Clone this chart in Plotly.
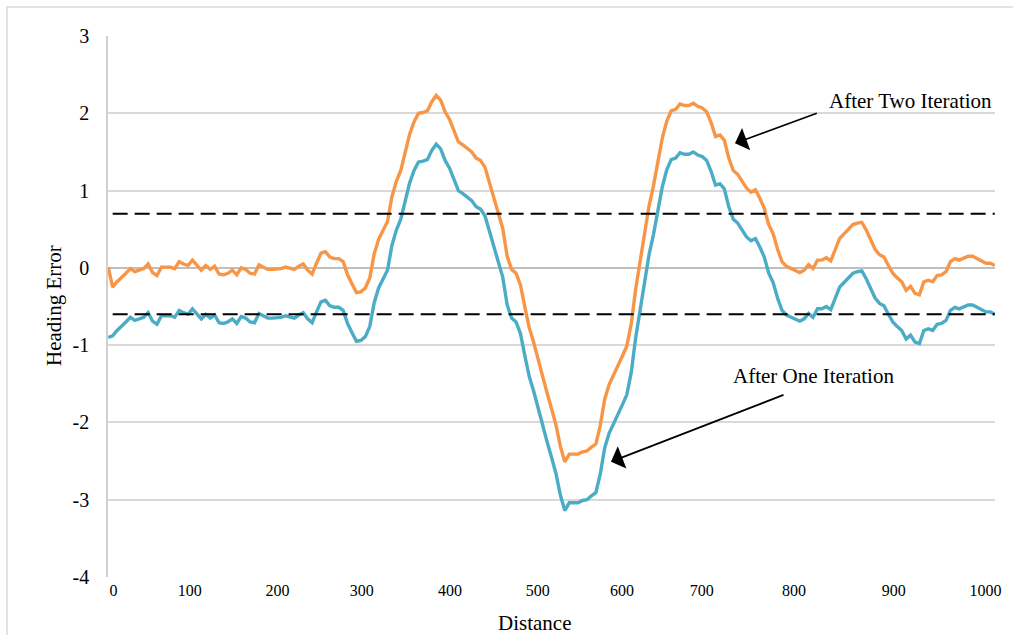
import plotly.graph_objects as go

# ---------------- data ----------------
sample_index = list(range(201))

after_two_iteration = [
    0.01, -0.25, -0.18, -0.13, -0.07, -0.01, -0.05, -0.03, -0.01, 0.05,
    -0.06, -0.10, 0.01, 0.01, 0.01, -0.01, 0.08, 0.05, 0.03, 0.10,
    0.03, -0.03, 0.03, -0.02, 0.02, -0.08, -0.09, -0.07, -0.03, -0.09,
    0.00, -0.02, -0.07, -0.08, 0.04, 0.01, -0.02, -0.02, -0.02, -0.01,
    0.01, 0.00, -0.02, 0.02, 0.05, -0.03, -0.08, 0.06, 0.19, 0.21,
    0.14, 0.12, 0.12, 0.08, -0.09, -0.21, -0.32, -0.31, -0.26, -0.13,
    0.18, 0.37, 0.48, 0.60, 0.92, 1.12, 1.26, 1.48, 1.73, 1.89,
    2.00, 2.01, 2.03, 2.15, 2.23, 2.17, 2.02, 1.92, 1.76, 1.63,
    1.59, 1.55, 1.50, 1.42, 1.39, 1.30, 1.10, 0.92, 0.72, 0.51,
    0.15, -0.02, -0.07, -0.22, -0.51, -0.78, -0.97, -1.20, -1.42, -1.62,
    -1.82, -2.03, -2.31, -2.51, -2.41, -2.41, -2.41, -2.38, -2.37, -2.32,
    -2.28, -2.04, -1.70, -1.51, -1.39, -1.28, -1.14, -1.01, -0.72, -0.27,
    0.08, 0.45, 0.80, 1.06, 1.38, 1.68, 1.90, 2.03, 2.05, 2.12,
    2.10, 2.10, 2.13, 2.09, 2.07, 2.02, 1.88, 1.70, 1.72, 1.65,
    1.42, 1.26, 1.21, 1.11, 1.03, 0.98, 1.01, 0.90, 0.77, 0.56,
    0.44, 0.24, 0.08, 0.02, -0.01, -0.04, -0.06, -0.03, 0.04, -0.01,
    0.10, 0.10, 0.13, 0.09, 0.24, 0.38, 0.44, 0.50, 0.56, 0.58,
    0.59, 0.49, 0.37, 0.24, 0.17, 0.14, 0.03, -0.07, -0.13, -0.18,
    -0.29, -0.24, -0.33, -0.35, -0.18, -0.16, -0.18, -0.10, -0.09, -0.05,
    0.08, 0.12, 0.10, 0.13, 0.15, 0.15, 0.12, 0.10, 0.06, 0.06,
    0.03,
]

after_one_iteration = [
    -0.90, -0.88, -0.81, -0.76, -0.70, -0.64, -0.68, -0.66, -0.64, -0.58,
    -0.69, -0.73, -0.62, -0.62, -0.62, -0.64, -0.55, -0.58, -0.60, -0.53,
    -0.60, -0.66, -0.60, -0.65, -0.61, -0.71, -0.72, -0.70, -0.66, -0.72,
    -0.63, -0.65, -0.70, -0.71, -0.59, -0.62, -0.65, -0.65, -0.65, -0.64,
    -0.62, -0.63, -0.65, -0.61, -0.58, -0.66, -0.71, -0.57, -0.44, -0.42,
    -0.49, -0.51, -0.51, -0.55, -0.72, -0.84, -0.95, -0.94, -0.89, -0.76,
    -0.45, -0.26, -0.15, -0.03, 0.29, 0.49, 0.63, 0.85, 1.10, 1.26,
    1.37, 1.38, 1.40, 1.52, 1.60, 1.54, 1.39, 1.29, 1.13, 1.00,
    0.96, 0.92, 0.87, 0.79, 0.76, 0.67, 0.47, 0.29, 0.09, -0.12,
    -0.48, -0.65, -0.70, -0.85, -1.14, -1.41, -1.60, -1.83, -2.05, -2.25,
    -2.45, -2.66, -2.94, -3.14, -3.04, -3.04, -3.04, -3.01, -3.00, -2.95,
    -2.91, -2.67, -2.33, -2.14, -2.02, -1.91, -1.77, -1.64, -1.35, -0.90,
    -0.55, -0.18, 0.17, 0.43, 0.75, 1.05, 1.27, 1.40, 1.42, 1.49,
    1.47, 1.47, 1.50, 1.46, 1.44, 1.39, 1.25, 1.07, 1.09, 1.02,
    0.79, 0.63, 0.58, 0.48, 0.40, 0.35, 0.38, 0.27, 0.14, -0.07,
    -0.19, -0.39, -0.55, -0.61, -0.64, -0.67, -0.69, -0.66, -0.59, -0.64,
    -0.53, -0.53, -0.50, -0.54, -0.39, -0.25, -0.19, -0.13, -0.07, -0.05,
    -0.04, -0.14, -0.26, -0.39, -0.46, -0.49, -0.60, -0.70, -0.76, -0.81,
    -0.92, -0.87, -0.96, -0.98, -0.81, -0.79, -0.81, -0.73, -0.72, -0.68,
    -0.55, -0.51, -0.53, -0.50, -0.48, -0.48, -0.51, -0.53, -0.57, -0.57,
    -0.60,
]

upper_limit = 0.7
lower_limit = -0.6
limit_x = [1, 200]

xtick_pos = [1.2, 18.4, 38.2, 57.2, 77.1, 96.9, 115.9, 133.9, 154.7, 177.2, 197.9]
xtick_labels = ["0", "100", "200", "300", "400", "500", "600", "700", "800", "900", "1000"]
ytick_vals = [-4, -3, -2, -1, 0, 1, 2, 3]
ytick_labels = ["-4", "-3", "-2", "-1", "0", "1", "2", "3"]

# ---------------- layout geometry ----------------
W, H = 1013, 635
L, R, T, B = 108, 18, 36, 58
PW, PH = W - L - R, H - T - B
FONT = "Liberation Serif, Times New Roman, serif"


def xp(px):
    return (px - L) / PW


def yp(py):
    return (H - B - py) / PH


fig = go.Figure()

fig.add_trace(go.Scatter(
    x=sample_index, y=after_one_iteration, mode="lines",
    line=dict(color="#4BACC6", width=3.4), name="After One Iteration",
))
fig.add_trace(go.Scatter(
    x=sample_index, y=after_two_iteration, mode="lines",
    line=dict(color="#F79646", width=3.4), name="After Two Iteration",
))
for lim in (upper_limit, lower_limit):
    fig.add_trace(go.Scatter(
        x=limit_x, y=[lim, lim], mode="lines",
        line=dict(color="black", width=2, dash="15px,7px"), showlegend=False,
    ))

shapes = [
    dict(type="rect", xref="paper", yref="paper",
         x0=xp(7), x1=xp(1030), y0=yp(7), y1=yp(650),
         line=dict(color="#D9D9D9", width=1.5), fillcolor="rgba(0,0,0,0)",
         layer="below"),
]

annotations = [
    dict(text="After Two Iteration", xref="paper", yref="paper", x=xp(910), y=yp(101.5),
         xanchor="center", yanchor="middle", showarrow=False,
         font=dict(family=FONT, size=21, color="black")),
    dict(text="After One Iteration", xref="paper", yref="paper", x=xp(813), y=yp(376),
         xanchor="center", yanchor="middle", showarrow=False,
         font=dict(family=FONT, size=21, color="black")),
    dict(text="", xref="paper", yref="paper", x=xp(735), y=yp(143.3),
         ax=83.3, ay=-30.6, showarrow=True, arrowhead=1, arrowsize=2.2,
         arrowwidth=1.8, arrowcolor="black", standoff=0),
    dict(text="", xref="paper", yref="paper", x=xp(611), y=yp(461.7),
         ax=174, ay=-67.4, showarrow=True, arrowhead=1, arrowsize=2.2,
         arrowwidth=1.8, arrowcolor="black", standoff=0),
    dict(text="Distance", xref="paper", yref="paper", x=xp(534), y=yp(623),
         xanchor="center", yanchor="middle", showarrow=False,
         font=dict(family=FONT, size=21, color="black")),
    dict(text="Heading Error", xref="paper", yref="paper", x=xp(54), y=yp(306),
         xanchor="center", yanchor="middle", showarrow=False, textangle=-90,
         font=dict(family=FONT, size=21, color="black")),
]

fig.update_layout(
    width=W, height=H,
    margin=dict(l=L, r=R, t=T, b=B, pad=0),
    paper_bgcolor="white", plot_bgcolor="white",
    showlegend=False,
    shapes=shapes, annotations=annotations,
    font=dict(family=FONT, color="black"),
    xaxis=dict(
        range=[-0.05, 200.05], tickmode="array", tickvals=xtick_pos, ticktext=xtick_labels,
        showgrid=False, zeroline=False, showline=False, ticks="",
        tickfont=dict(family=FONT, size=16, color="black"), ticklabelstandoff=2,
        fixedrange=True,
    ),
    yaxis=dict(
        range=[-4, 3], tickmode="array", tickvals=ytick_vals, ticktext=ytick_labels,
        showgrid=True, gridcolor="#D9D9D9", gridwidth=1.5,
        zeroline=True, zerolinecolor="#BFBFBF", zerolinewidth=1.5,
        showline=True, linecolor="#D0D0D0", linewidth=1.5,
        ticks="", tickfont=dict(family=FONT, size=20, color="black"),
        ticklabelstandoff=13, fixedrange=True,
    ),
)

fig.write_html("out.html", config={"displayModeBar": False})

# remove the default page margin so the figure sits at the window's top-left corner
with open("out.html", encoding="utf-8") as f:
    html = f.read()
html = html.replace("<head>", "<head><style>html,body{margin:0;padding:0;overflow:hidden;}</style>", 1)
with open("out.html", "w", encoding="utf-8") as f:
    f.write(html)
